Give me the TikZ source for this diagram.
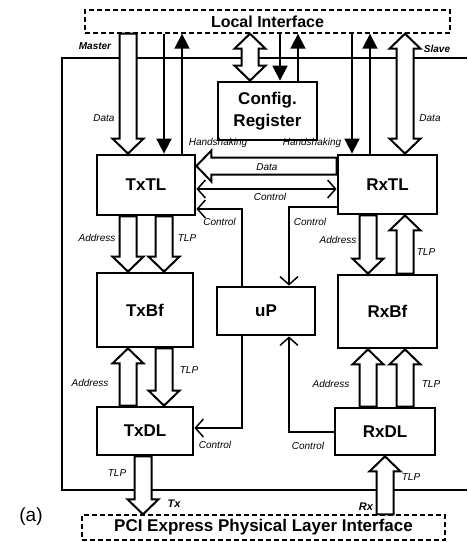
\documentclass[tikz,border=0pt]{standalone}
\usepackage{fontspec}
\setmainfont{Liberation Sans}
\usetikzlibrary{arrows.meta,calc}
\newcommand\HAs{8.5pt}
\newcommand\HAw{15.5pt}
\newcommand\HAl{15pt}
\newcommand\HArrowV[2]{%
  \draw[hollow] let \p1=#1, \p2=#2, \n1={ifthenelse(\y2>\y1,1,-1)}, \n2={\y2-(\n1)*\HAl} in
   ({\x1-\HAs},\y1) -- ({\x1-\HAs},\n2) -- ({\x1-\HAw},\n2) -- (\x1,\y2)
   -- ({\x1+\HAw},\n2) -- ({\x1+\HAs},\n2) -- ({\x1+\HAs},\y1) -- cycle;}
\newcommand\HArrowVV[2]{%
  \draw[hollow] let \p1=#1, \p2=#2, \n1={ifthenelse(\y2>\y1,1,-1)}, \n2={\y2-(\n1)*\HAl}, \n3={\y1+(\n1)*\HAl} in
   (\x1,\y1) -- ({\x1-\HAw},\n3) -- ({\x1-\HAs},\n3) -- ({\x1-\HAs},\n2)
   -- ({\x1-\HAw},\n2) -- (\x1,\y2) -- ({\x1+\HAw},\n2) -- ({\x1+\HAs},\n2)
   -- ({\x1+\HAs},\n3) -- ({\x1+\HAw},\n3) -- cycle;}
\newcommand\HArrowH[2]{%
  \draw[hollow] let \p1=#1, \p2=#2, \n1={ifthenelse(\x2>\x1,1,-1)}, \n2={\x2-(\n1)*\HAl} in
   (\x1,{\y1-\HAs}) -- (\n2,{\y1-\HAs}) -- (\n2,{\y1-\HAw}) -- (\x2,\y1)
   -- (\n2,{\y1+\HAw}) -- (\n2,{\y1+\HAs}) -- (\x1,{\y1+\HAs}) -- cycle;}
\tikzset{
  blk/.style={draw, line width=2.8pt, inner sep=0pt, fill=white,
    font=\bfseries\fontsize{17}{22}\selectfont, align=center},
  iface/.style={draw, dash pattern=on 5pt off 3pt, line width=1.4pt, inner sep=0pt,
    font=\bfseries\fontsize{16}{16}\selectfont},
  hollow/.style={draw, fill=white, line width=2pt, line join=miter},
  thinarr/.style={line width=1.8pt, -{Triangle[length=15pt,width=15pt]}},
  ctl/.style={line width=1.5pt, -{Straight Barb[length=8pt,width=18pt]}},
  frame/.style={line width=1.5pt},
  lbl/.style={inner sep=0pt, font=\itshape\fontsize{10}{10}\selectfont},
  blbl/.style={inner sep=0pt, font=\bfseries\itshape\fontsize{10}{10}\selectfont},
}
\begin{document}
\begin{tikzpicture}[x=1pt,y=-1pt]
\useasboundingbox (0,0) rectangle (467,542);
% outer frame
\draw[frame] (467,58) -- (62,58) -- (62,490) -- (467,490);
% interfaces
\node[iface, minimum width=365pt, minimum height=23pt] (li) at (267.5,21.5) {Local Interface};
\node[iface, minimum width=363pt, minimum height=25pt, font=\bfseries\fontsize{17}{17}\selectfont] (pci) at (263.5,527.5) {PCI Express Physical Layer Interface};
% blocks
\node[blk, minimum width=99pt, minimum height=58pt] (cfg) at (267.5,111) {Config.\\Register};
\node[blk, minimum width=98pt, minimum height=60pt] (txtl) at (146,185) {TxTL};
\node[blk, minimum width=99pt, minimum height=59pt] (rxtl) at (387.5,184.5) {RxTL};
\node[blk, minimum width=96pt, minimum height=74pt] (txbf) at (145,310) {TxBf};
\node[blk, minimum width=99pt, minimum height=73pt] (rxbf) at (387.5,311.5) {RxBf};
\node[blk, minimum width=98pt, minimum height=48pt] (up) at (266,311) {uP};
\node[blk, minimum width=96pt, minimum height=48pt] (txdl) at (145,431) {TxDL};
\node[blk, minimum width=100pt, minimum height=47pt] (rxdl) at (385,431.5) {RxDL};
% column and row coordinates
\coordinate (xa) at (128,0);
\coordinate (xb) at (164,0);
\coordinate (xc) at (182,0);
\coordinate (xd) at (250,0);
\coordinate (xe) at (280,0);
\coordinate (xf) at (298,0);
\coordinate (xg) at (352,0);
\coordinate (xh) at (370,0);
\coordinate (xi) at (405,0);
\coordinate (xj) at (368,0);
\coordinate (xk) at (143,0);
\coordinate (xl) at (385,0);
\coordinate (xm) at (242,0);
\coordinate (xn) at (289,0);
\coordinate (ya) at (0,166);
\coordinate (yb) at (0,189);
\coordinate (yc) at (0,209);
\coordinate (yd) at (0,207);
\coordinate (ye) at (0,428);
\coordinate (yf) at (0,432);
% hollow arrows
\HArrowV{(li.south -| xa)}{(txtl.north -| xa)}
\HArrowVV{(li.south -| xd)}{(cfg.north -| xd)}
\HArrowVV{(li.south -| xi)}{(rxtl.north -| xi)}
\HArrowH{(rxtl.west |- ya)}{(txtl.east |- ya)}
\HArrowV{(txtl.south -| xa)}{(txbf.north -| xa)}
\HArrowV{(txtl.south -| xb)}{(txbf.north -| xb)}
\HArrowV{(rxtl.south -| xj)}{(rxbf.north -| xj)}
\HArrowV{(rxbf.north -| xi)}{(rxtl.south -| xi)}
\HArrowV{(txdl.north -| xa)}{(txbf.south -| xa)}
\HArrowV{(txbf.south -| xb)}{(txdl.north -| xb)}
\HArrowV{(rxdl.north -| xj)}{(rxbf.south -| xj)}
\HArrowV{(rxdl.north -| xi)}{(rxbf.south -| xi)}
\HArrowV{(txdl.south -| xk)}{(pci.north -| xk)}
\HArrowV{(pci.north -| xl)}{(rxdl.south -| xl)}
% thin arrows
\draw[thinarr] (li.south -| xb) -- (txtl.north -| xb);
\draw[thinarr] (txtl.north -| xc) -- (li.south -| xc);
\draw[thinarr] (li.south -| xe) -- (cfg.north -| xe);
\draw[thinarr] (cfg.north -| xf) -- (li.south -| xf);
\draw[thinarr] (li.south -| xg) -- (rxtl.north -| xg);
\draw[thinarr] (rxtl.north -| xh) -- (li.south -| xh);
% control lines
\draw[ctl, {Straight Barb[length=8pt,width=18pt]}-{Straight Barb[length=8pt,width=18pt]}] (txtl.east |- yb) -- (rxtl.west |- yb);
\draw[ctl] (up.north -| xm) -- (xm |- yc) -- (txtl.east |- yc);
\draw[ctl] (rxtl.west |- yd) -- (xn |- yd) -- (up.north -| xn);
\draw[ctl] (up.south -| xm) -- (xm |- ye) -- (txdl.east |- ye);
\draw[ctl] (rxdl.west |- yf) -- (xn |- yf) -- (up.south -| xn);
% labels
\node[blbl] (lmaster) at (95,46) {Master};
\node[blbl] (lslave) at (437,49) {Slave};
\node[lbl] (ldata1) at (104,118) {Data};
\node[lbl] (ldata2) at (430,118) {Data};
\node[lbl] (lhs1) at (218,143) {Handshaking};
\node[lbl] (lhs2) at (312,143) {Handshaking};
\node[lbl] (ldata3) at (267,167) {Data};
\node[lbl] (lctl1) at (270,197) {Control};
\node[lbl] (lctl2) at (219.5,222) {Control};
\node[lbl] (lctl3) at (310,222) {Control};
\node[lbl] (ladr1) at (97,238) {Address};
\node[lbl] (ltlp1) at (187,238) {TLP};
\node[lbl] (ladr2) at (338,240) {Address};
\node[lbl] (ltlp2) at (426,252) {TLP};
\node[lbl] (ladr3) at (90,383) {Address};
\node[lbl] (ltlp3) at (189,370) {TLP};
\node[lbl] (ladr4) at (331,384) {Address};
\node[lbl] (ltlp4) at (431,384) {TLP};
\node[lbl] (lctl4) at (215,445) {Control};
\node[lbl] (lctl5) at (308,446) {Control};
\node[lbl] (ltlp5) at (117,473) {TLP};
\node[lbl] (ltlp6) at (411,477) {TLP};
\node[blbl, font=\bfseries\itshape\fontsize{11}{11}\selectfont] (ltx) at (174,504) {Tx};
\node[blbl, font=\bfseries\itshape\fontsize{11}{11}\selectfont] (lrx) at (366,507) {Rx};
\node[inner sep=0pt, font=\fontsize{19}{19}\selectfont] (la) at (31,517) {(a)};
\end{tikzpicture}
\end{document}
